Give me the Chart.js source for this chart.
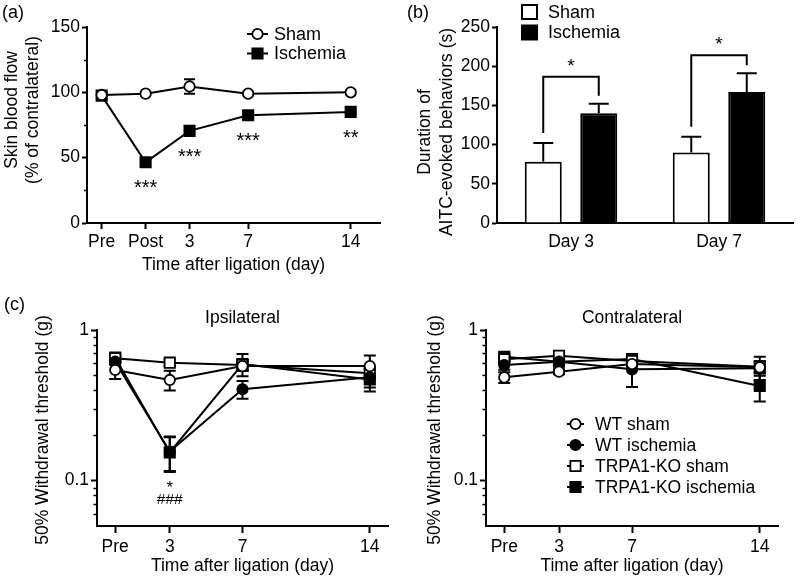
<!DOCTYPE html>
<html>
<head>
<meta charset="utf-8">
<script src="https://cdn.jsdelivr.net/npm/chart.js@4"></script>
<style>
  body { margin: 0; background: #fff; }
  #wrap { position: relative; width: 800px; height: 582px; overflow: hidden; }
  canvas { position: absolute; }
</style>
</head>
<body>
<div id="wrap">
  <canvas id="chartA" width="400" height="290" style="left:0;top:0"></canvas>
  <canvas id="chartB" width="400" height="290" style="left:400px;top:0"></canvas>
  <canvas id="chartC1" width="400" height="292" style="left:0;top:290px"></canvas>
  <canvas id="chartC2" width="400" height="292" style="left:400px;top:290px"></canvas>
</div>
<script>
// (a) skin blood flow
const flowDays = [-3, 0, 3, 7, 14];
const flowTickLabels = ["Pre", "Post", "3", "7", "14"];
const flowYTicks = [0, 50, 100, 150];
const flowMinorTicks = [25, 75, 125];
const flowSham = [98, 99, 104.5, 99, 100];
const flowShamErr = [1.5, 1.5, 5.5, 1.5, 1.5];
const flowIsch = [97.5, 46.5, 70.5, 82.5, 85];
const flowIschErr = [2, 2.5, 3, 2, 2];
const flowStars = ["", "***", "***", "***", "**"];

// (b) AITC-evoked behaviors
const aitcDays = ["Day 3", "Day 7"];
const aitcYTicks = [0, 50, 100, 150, 200, 250];
const aitcSham = [78, 90];
const aitcShamErr = [24, 20];
const aitcIsch = [140, 167];
const aitcIschErr = [12, 24];
const aitcStars = ["*", "*"];

// (c) von Frey, 50% withdrawal threshold
const vfDays = [0, 3, 7, 14];
const vfTickLabels = ["Pre", "3", "7", "14"];
const vfYTicks = [0.1, 1];
const vfYTickLabels = ["0.1", "1"];
const vfMinorTicks = [0.06, 0.07, 0.08, 0.09, 0.2, 0.3, 0.4, 0.5, 0.6, 0.7, 0.8, 0.9];
const vfGroups = ["WT sham", "WT ischemia", "TRPA1-KO sham", "TRPA1-KO ischemia"];

const ipsiWtSham = [0.543, 0.466, 0.576, 0.576];
const ipsiWtShamErr = [0.07, 0.07, 0.04, 0.1];
const ipsiWtIsch = [0.616, 0.156, 0.404, 0.485];
const ipsiWtIschErr = [0.03, 0.04, 0.055, 0.07];
const ipsiKoSham = [0.649, 0.607, 0.585, 0.516];
const ipsiKoShamErr = [0.03, 0.03, 0.05, 0.05];
const ipsiKoIsch = [0.655, 0.154, 0.594, 0.47];
const ipsiKoIschErr = [0.03, 0.04, 0.1, 0.08];
const ipsiStars = ["", "*", "", ""];
const ipsiHashes = ["", "###", "", ""];

const contraWtSham = [0.485, 0.529, 0.594, 0.565];
const contraWtShamErr = [0.04, 0.02, 0.04, 0.1];
const contraWtIsch = [0.585, 0.616, 0.548, 0.557];
const contraWtIschErr = [0.04, 0.04, 0.13, 0.06];
const contraKoSham = [0.639, 0.675, 0.622, 0.571];
const contraKoShamErr = [0.03, 0.02, 0.04, 0.05];
const contraKoIsch = [0.665, 0.616, 0.642, 0.425];
const contraKoIschErr = [0.03, 0.03, 0.05, 0.09];

const FONT = "'Liberation Sans', Arial, Helvetica, sans-serif";
Chart.defaults.font.family = FONT;
Chart.defaults.font.size = 17.5;
Chart.defaults.color = "#000";
Chart.defaults.animation = false;
Chart.defaults.responsive = false;
Chart.defaults.plugins.legend.display = false;
Chart.defaults.plugins.tooltip.enabled = false;

// helpers
function pts(xs, ys) {
  return xs.map((x, i) => ({ x: x, y: ys[i] }));
}

function drawMarker(ctx, style, x, y, r, filled) {
  ctx.save();
  ctx.lineWidth = 1.8;
  ctx.strokeStyle = "#000";
  ctx.fillStyle = filled ? "#000" : "#fff";
  ctx.beginPath();
  if (style === "rect") {
    const s = r * Math.SQRT1_2;
    ctx.rect(x - s, y - s, 2 * s, 2 * s);
  } else {
    ctx.arc(x, y, r, 0, Math.PI * 2);
  }
  ctx.fill();
  ctx.stroke();
  ctx.restore();
}

function series(label, xs, ys, errs, style, filled) {
  return {
    label: label,
    data: pts(xs, ys),
    errors: errs,
    borderColor: "#000",
    borderWidth: 2,
    pointStyle: style,
    pointRadius: style === "rect" ? 7.3 : 5.2,
    pointBackgroundColor: filled ? "#000" : "#fff",
    pointBorderColor: "#000",
    pointBorderWidth: 1.8,
    filled: filled
  };
}

// error bars: drawn before the marks so open markers cover the inner part
const errorBars = {
  id: "errorBars",
  beforeDatasetsDraw(chart, args, opts) {
    const ctx = chart.ctx;
    const y = chart.scales.y;
    ctx.save();
    ctx.strokeStyle = "#000";
    ctx.lineWidth = opts.width || 2;
    chart.data.datasets.forEach((ds, i) => {
      if (!ds.errors) return;
      const meta = chart.getDatasetMeta(i);
      meta.data.forEach((el, j) => {
        const raw = ds.data[j];
        const v = typeof raw === "object" ? raw.y : raw;
        const e = ds.errors[j];
        const top = y.getPixelForValue(v + e);
        const bot = opts.upOnly ? y.getPixelForValue(v) : y.getPixelForValue(v - e);
        ctx.beginPath();
        ctx.moveTo(el.x, top); ctx.lineTo(el.x, bot);
        ctx.moveTo(el.x - opts.cap, top); ctx.lineTo(el.x + opts.cap, top);
        if (!opts.upOnly) { ctx.moveTo(el.x - opts.cap, bot); ctx.lineTo(el.x + opts.cap, bot); }
        ctx.stroke();
      });
    });
    ctx.restore();
  }
};

// rotated y title, minor ticks, panel letter, centre title
const decor = {
  id: "decor",
  afterDraw(chart, args, opts) {
    const ctx = chart.ctx;
    ctx.save();
    ctx.fillStyle = "#000";
    if (opts.yTitle) {
      ctx.save();
      ctx.translate(opts.yTitle.x, opts.yTitle.y);
      ctx.rotate(-Math.PI / 2);
      ctx.font = "17.5px " + FONT;
      ctx.textAlign = "center";
      ctx.textBaseline = "middle";
      opts.yTitle.lines.forEach((t, k) => ctx.fillText(t, 0, k * opts.yTitle.lh));
      ctx.restore();
    }
    if (opts.minor) {
      const y = chart.scales.y;
      const left = chart.chartArea.left;
      ctx.strokeStyle = "#000";
      ctx.lineWidth = 1.5;
      opts.minor.forEach(v => {
        const py = Math.round(y.getPixelForValue(v)) + 0.5;
        ctx.beginPath();
        ctx.moveTo(left - opts.minorLen, py);
        ctx.lineTo(left, py);
        ctx.stroke();
      });
    }
    if (opts.letter) {
      ctx.font = "18px " + FONT;
      ctx.textAlign = "left";
      ctx.textBaseline = "middle";
      ctx.fillText(opts.letter.text, opts.letter.x, opts.letter.y);
    }
    if (opts.title) {
      ctx.font = "17.5px " + FONT;
      ctx.textAlign = "center";
      ctx.textBaseline = "middle";
      const a = chart.chartArea;
      ctx.fillText(opts.title, (a.left + a.right) / 2, opts.titleY);
    }
    ctx.restore();
  }
};

// line + marker legend
const lineLegend = {
  id: "lineLegend",
  afterDraw(chart, args, opts) {
    if (!opts.show) return;
    const ctx = chart.ctx;
    chart.data.datasets.forEach((ds, i) => {
      const yy = opts.y + i * opts.dy;
      ctx.save();
      ctx.strokeStyle = "#000";
      ctx.lineWidth = 2;
      ctx.beginPath();
      ctx.moveTo(opts.x, yy);
      ctx.lineTo(opts.x + opts.len, yy);
      ctx.stroke();
      ctx.restore();
      drawMarker(ctx, ds.pointStyle, opts.x + opts.len / 2, yy, ds.pointRadius, ds.filled);
      ctx.save();
      ctx.fillStyle = "#000";
      ctx.font = opts.size + "px " + FONT;
      ctx.textAlign = "left";
      ctx.textBaseline = "middle";
      ctx.fillText(ds.label, opts.x + opts.len + opts.gap, yy + 1);
      ctx.restore();
    });
  }
};

function axisY(width, ticks, labels, min, max, type, tickLen) {
  return {
    type: type,
    min: min,
    max: max,
    afterBuildTicks: s => { s.ticks = ticks.map(v => ({ value: v })); },
    afterFit: s => { s.width = width; },
    ticks: {
      padding: 2,
      callback: v => labels[ticks.indexOf(v)]
    },
    grid: { drawOnChartArea: false, tickLength: tickLen, tickWidth: 2, tickColor: "#000" },
    border: { width: 2, color: "#000" }
  };
}

// ---------- (a) ----------
const flowStarText = {
  id: "flowStarText",
  afterDatasetsDraw(chart) {
    const ctx = chart.ctx;
    const meta = chart.getDatasetMeta(1);
    ctx.save();
    ctx.fillStyle = "#000";
    ctx.font = "20px " + FONT;
    ctx.textAlign = "center";
    ctx.textBaseline = "alphabetic";
    meta.data.forEach((el, j) => {
      if (flowStars[j]) ctx.fillText(flowStars[j], el.x, el.y + 32);
    });
    ctx.restore();
  }
};

new Chart(document.getElementById("chartA"), {
  type: "line",
  data: {
    datasets: [
      series("Sham", flowDays, flowSham, flowShamErr, "circle", false),
      series("Ischemia", flowDays, flowIsch, flowIschErr, "rect", true)
    ]
  },
  options: {
    layout: { padding: { top: 27, right: 20, left: 0, bottom: 0 } },
    scales: {
      x: {
        type: "linear",
        min: -4,
        max: 16,
        afterBuildTicks: s => { s.ticks = flowDays.map(v => ({ value: v })); },
        afterFit: s => { s.height = 67; },
        ticks: { padding: 3, callback: v => flowTickLabels[flowDays.indexOf(v)] },
        grid: { drawOnChartArea: false, tickLength: 6, tickWidth: 2, tickColor: "#000" },
        border: { width: 2, color: "#000" },
        title: { display: true, text: "Time after ligation (day)", padding: { top: 0, bottom: 14 } }
      },
      y: axisY(87, flowYTicks, flowYTicks.map(String), 0, 150, "linear", 5)
    },
    plugins: {
      errorBars: { cap: 5.5 },
      decor: {
        yTitle: { x: 12, y: 110, lh: 21, lines: ["Skin blood flow", "(% of contralateral)"] },
        minor: flowMinorTicks, minorLen: 3,
        letter: { text: "(a)", x: 2, y: 13 }
      },
      lineLegend: { show: true, x: 247, y: 34, dy: 19.5, len: 21, gap: 6, size: 18 }
    }
  },
  plugins: [errorBars, decor, lineLegend, flowStarText]
});

// ---------- (b) ----------
const bracketPad = [19, 10];
const brackets = {
  id: "brackets",
  afterDatasetsDraw(chart) {
    const ctx = chart.ctx;
    const y = chart.scales.y;
    const ms = chart.getDatasetMeta(0);
    const mi = chart.getDatasetMeta(1);
    ctx.save();
    ctx.strokeStyle = "#000";
    ctx.lineWidth = 2;
    ctx.fillStyle = "#000";
    aitcDays.forEach((d, j) => {
      const xs = ms.data[j].x;
      const xi = mi.data[j].x;
      const ys = y.getPixelForValue(aitcSham[j] + aitcShamErr[j]) - 10;
      const yi = y.getPixelForValue(aitcIsch[j] + aitcIschErr[j]) - 8;
      const yt = Math.min(ys, yi) - bracketPad[j];
      ctx.beginPath();
      ctx.moveTo(xs, ys); ctx.lineTo(xs, yt); ctx.lineTo(xi, yt); ctx.lineTo(xi, yi);
      ctx.stroke();
      ctx.font = "19px " + FONT;
      ctx.textAlign = "center";
      ctx.textBaseline = "alphabetic";
      ctx.fillText(aitcStars[j], (xs + xi) / 2, yt - 5);
    });
    ctx.restore();
  }
};

const boxLegend = {
  id: "boxLegend",
  afterDraw(chart) {
    const ctx = chart.ctx;
    ctx.save();
    chart.data.datasets.forEach((ds, i) => {
      const yy = 12 + i * 20.5;
      ctx.fillStyle = ds.backgroundColor;
      ctx.strokeStyle = "#000";
      ctx.lineWidth = 2;
      ctx.fillRect(122, yy - 7, 15, 14);
      ctx.strokeRect(122, yy - 7, 15, 14);
      ctx.fillStyle = "#000";
      ctx.font = "18px " + FONT;
      ctx.textAlign = "left";
      ctx.textBaseline = "middle";
      ctx.fillText(ds.label, 148, yy + 1);
    });
    ctx.restore();
  }
};

new Chart(document.getElementById("chartB"), {
  type: "bar",
  data: {
    labels: aitcDays,
    datasets: [
      { label: "Sham", data: aitcSham, errors: aitcShamErr, backgroundColor: "#fff", borderColor: "#000", borderWidth: 2 },
      { label: "Ischemia", data: aitcIsch, errors: aitcIschErr, backgroundColor: "#000", borderColor: "#000", borderWidth: 2 }
    ]
  },
  options: {
    categoryPercentage: 0.75,
    barPercentage: 0.667,
    layout: { padding: { top: 27, right: 7, left: 0, bottom: 0 } },
    scales: {
      x: {
        afterFit: s => { s.height = 67; },
        ticks: { padding: 9 },
        grid: { drawOnChartArea: false, drawTicks: false },
        border: { width: 2, color: "#000" }
      },
      y: axisY(97, aitcYTicks, aitcYTicks.map(String), 0, 250, "linear", 5)
    },
    plugins: {
      errorBars: { cap: 10, upOnly: true, width: 2 },
      decor: {
        yTitle: { x: 25, y: 132, lh: 22, lines: ["Duration of", "AITC-evoked behaviors (s)"] },
        letter: { text: "(b)", x: 7, y: 13 }
      }
    }
  },
  plugins: [errorBars, decor, brackets, boxLegend]
});

// ---------- (c) ----------
const ipsiMarks = {
  id: "ipsiMarks",
  afterDatasetsDraw(chart, args, opts) {
    if (!opts.show) return;
    const ctx = chart.ctx;
    const x = chart.scales.x;
    ctx.save();
    ctx.fillStyle = "#000";
    ctx.textAlign = "center";
    ctx.textBaseline = "middle";
    vfDays.forEach((d, j) => {
      const px = x.getPixelForValue(d);
      ctx.font = "17px " + FONT;
      if (ipsiStars[j]) ctx.fillText(ipsiStars[j], px, 198);
      ctx.font = "15.5px " + FONT;
      if (ipsiHashes[j]) ctx.fillText(ipsiHashes[j], px, 210);
    });
    ctx.restore();
  }
};

function vfChart(id, title, data, yWidth, rightPad, titleX, letter, legend) {
  const styles = [["circle", false], ["circle", true], ["rect", false], ["rect", true]];
  return new Chart(document.getElementById(id), {
    type: "line",
    data: {
      datasets: data.map((d, i) => series(vfGroups[i], vfDays, d[0], d[1], styles[i][0], styles[i][1]))
    },
    options: {
      layout: { padding: { top: 40, right: rightPad, left: 0, bottom: 0 } },
      scales: {
        x: {
          type: "linear",
          min: -1,
          max: 15,
          afterBuildTicks: s => { s.ticks = vfDays.map(v => ({ value: v })); },
          afterFit: s => { s.height = 56; },
          ticks: { padding: 4, callback: v => vfTickLabels[vfDays.indexOf(v)] },
          grid: { drawOnChartArea: false, tickLength: 7, tickWidth: 2, tickColor: "#000" },
          border: { width: 2, color: "#000" },
          title: { display: true, text: "Time after ligation (day)", padding: { top: 0, bottom: 5 } }
        },
        y: axisY(yWidth, vfYTicks, vfYTickLabels, 0.05, 1, "logarithmic", 6)
      },
      plugins: {
        errorBars: { cap: 6 },
        decor: {
          yTitle: { x: titleX, y: 140, lh: 21, lines: ["50% Withdrawal threshold (g)"] },
          minor: vfMinorTicks, minorLen: 3.5,
          letter: letter,
          title: title, titleY: 28
        },
        lineLegend: legend,
        ipsiMarks: { show: id === "chartC1" }
      }
    },
    plugins: [errorBars, decor, lineLegend, ipsiMarks]
  });
}

vfChart("chartC1", "Ipsilateral", [
  [ipsiWtSham, ipsiWtShamErr],
  [ipsiWtIsch, ipsiWtIschErr],
  [ipsiKoSham, ipsiKoShamErr],
  [ipsiKoIsch, ipsiKoIschErr]
], 97, 12, 43, { text: "(c)", x: 4, y: 15 }, { show: false });

vfChart("chartC2", "Contralateral", [
  [contraWtSham, contraWtShamErr],
  [contraWtIsch, contraWtIschErr],
  [contraKoSham, contraKoShamErr],
  [contraKoIsch, contraKoIschErr]
], 86, 22, 35, null, { show: true, x: 167, y: 134, dy: 21, len: 17, gap: 11, size: 17.5 });
</script>
</body>
</html>
